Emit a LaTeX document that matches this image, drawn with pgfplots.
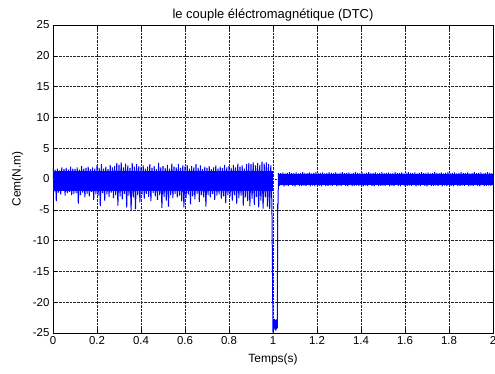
\documentclass[border=0pt]{standalone}
\usepackage{fontspec}
\setmainfont{Liberation Sans}
\usepackage{pgfplots}
\pgfplotsset{compat=1.18}
\begin{document}
\begin{tikzpicture}
\begin{axis}[name=ax, scale only axis, width=440bp, height=308bp,
 xmin=0,xmax=2,ymin=-25,ymax=25,
 xtick={0,0.2,0.4,0.6,0.8,1,1.2,1.4,1.6,1.8,2},
 xticklabels={0,0.2,0.4,0.6,0.8,1,1.2,1.4,1.6,1.8,2},
 ytick={-25,-20,-15,-10,-5,0,5,10,15,20,25},
 yticklabels={-25,-20,-15,-10,-5,0,5,10,15,20,25},
 tick align=inside, tick pos=both, major tick length=4bp,
 grid=major, grid style={black!85, densely dotted, line width=0.6pt},
 axis line style={black, line width=0.9pt},
 tick style={black, line width=0.6pt},
 ticklabel style={font=\fontsize{11.5}{13}\selectfont},
 label style={font=\fontsize{12}{14}\selectfont},
 title style={font=\fontsize{13}{15}\selectfont, at={(0.5,1)}, anchor=base, yshift=1bp},
 xlabel style={at={(0.5,0)}, anchor=base, yshift=-29bp},
 ylabel style={yshift=3bp},
 xlabel={Temps(s)}, ylabel={Cem(N.m)},
 title={le couple éléctromagnétique (DTC)},
]
% dense core of the oscillation bands
\addplot[fill=blue, draw=none] coordinates {(0,1.3)(0.998,1.3)(0.998,-1.9)(0,-1.9)};
\addplot[fill=blue, draw=none] coordinates {(1.025,0.85)(2,0.85)(2,-0.95)(1.025,-0.95)};
\addplot[blue, line width=1pt] coordinates {
(0.000,1.8)(0.005,-2.0)(0.010,1.5)(0.015,-3.6)(0.020,1.7)(0.025,-2.2)(0.030,1.4)(0.035,-2.5)(0.040,1.9)(0.045,-1.9)
(0.050,1.6)(0.055,-2.7)(0.060,1.8)(0.065,-2.3)(0.070,1.5)(0.075,-2.1)(0.080,2.0)(0.085,-2.6)(0.090,1.7)(0.095,-2.4)
(0.100,1.6)(0.105,-2.3)(0.110,1.9)(0.115,-4.0)(0.120,1.5)(0.125,-2.6)(0.130,2.1)(0.135,-2.2)(0.140,1.7)(0.145,-3.0)
(0.150,1.8)(0.155,-2.4)(0.160,2.0)(0.165,-2.8)(0.170,1.6)(0.175,-2.1)(0.180,1.9)(0.185,-3.4)(0.190,1.7)(0.195,-2.5)
(0.200,2.2)(0.205,-2.7)(0.210,1.8)(0.215,-4.4)(0.220,2.4)(0.225,-2.3)(0.230,1.7)(0.235,-3.5)(0.240,2.0)(0.245,-2.5)
(0.250,1.6)(0.255,-2.9)(0.260,2.3)(0.265,-2.2)(0.270,1.9)(0.275,-3.1)(0.280,2.1)(0.285,-2.6)(0.290,2.6)(0.295,-4.3)
(0.300,2.3)(0.305,-2.8)(0.310,2.7)(0.315,-3.3)(0.320,1.9)(0.325,-2.4)(0.330,2.5)(0.335,-4.6)(0.340,2.2)(0.345,-2.7)
(0.350,1.8)(0.355,-5.2)(0.360,2.6)(0.365,-3.0)(0.370,2.0)(0.375,-4.9)(0.380,2.4)(0.385,-2.6)(0.390,2.1)(0.395,-3.8)
(0.400,1.9)(0.405,-2.5)(0.410,2.2)(0.415,-3.2)(0.420,1.7)(0.425,-2.4)(0.430,2.0)(0.435,-2.9)(0.440,2.4)(0.445,-3.6)
(0.450,1.8)(0.455,-2.3)(0.460,2.1)(0.465,-2.8)(0.470,1.6)(0.475,-3.4)(0.480,2.6)(0.485,-2.6)(0.490,1.9)(0.495,-4.7)
(0.500,2.1)(0.505,-2.9)(0.510,1.8)(0.515,-3.5)(0.520,2.3)(0.525,-4.5)(0.530,1.7)(0.535,-2.6)(0.540,2.5)(0.545,-3.1)
(0.550,2.0)(0.555,-2.4)(0.560,1.9)(0.565,-3.0)(0.570,2.4)(0.575,-2.7)(0.580,1.8)(0.585,-3.6)(0.590,2.2)(0.595,-4.6)
(0.600,2.0)(0.605,-3.1)(0.610,2.3)(0.615,-2.5)(0.620,1.7)(0.625,-4.1)(0.630,2.1)(0.635,-2.8)(0.640,1.9)(0.645,-3.3)
(0.650,2.4)(0.655,-2.4)(0.660,1.8)(0.665,-3.7)(0.670,2.2)(0.675,-2.6)(0.680,1.6)(0.685,-3.0)(0.690,2.0)(0.695,-4.5)
(0.700,1.8)(0.705,-2.6)(0.710,2.1)(0.715,-3.0)(0.720,1.6)(0.725,-2.4)(0.730,1.9)(0.735,-3.4)(0.740,2.2)(0.745,-2.7)
(0.750,1.7)(0.755,-2.5)(0.760,2.0)(0.765,-3.2)(0.770,1.8)(0.775,-2.8)(0.780,2.3)(0.785,-3.9)(0.790,1.9)(0.795,-2.6)
(0.800,2.1)(0.805,-2.8)(0.810,1.8)(0.815,-3.5)(0.820,2.3)(0.825,-2.6)(0.830,1.9)(0.835,-4.0)(0.840,2.5)(0.845,-3.1)
(0.850,2.0)(0.855,-2.7)(0.860,2.2)(0.865,-4.3)(0.870,1.7)(0.875,-3.0)(0.880,2.4)(0.885,-3.6)(0.890,2.6)(0.895,-4.4)
(0.900,2.4)(0.905,-3.2)(0.910,2.7)(0.915,-4.2)(0.920,2.2)(0.925,-2.9)(0.930,2.6)(0.935,-4.6)(0.940,2.3)(0.945,-3.5)
(0.950,2.8)(0.955,-4.8)(0.960,2.5)(0.965,-3.0)(0.970,2.7)(0.975,-4.5)(0.980,2.4)(0.985,-4.9)(0.990,2.2)(0.995,-4.0)
(1.000,-24.9)(1.002,-22.8)(1.004,-24.5)(1.006,-22.7)(1.008,-24.3)(1.010,-22.9)(1.012,-24.6)(1.014,-22.8)(1.016,-24.4)(1.018,-22.9)(1.020,-24.2)
(1.021,-4.0)(1.022,-4.9)(1.023,-3.8)
(1.025,1.0)(1.030,-1.1)(1.035,0.95)(1.040,-1.0)(1.045,1.05)(1.050,-1.2)(1.055,0.9)(1.060,-1.05)
(1.065,1.0)(1.070,-1.15)(1.075,1.1)(1.080,-0.95)(1.085,0.95)(1.090,-1.1)(1.095,1.0)(1.100,-1.2)
(1.105,1.05)(1.110,-1.0)(1.115,0.9)(1.120,-1.15)(1.125,1.0)(1.130,-1.1)(1.135,1.1)(1.140,-1.05)
(1.145,1.0)(1.150,-1.1)(1.155,0.95)(1.160,-1.0)(1.165,1.05)(1.170,-1.2)(1.175,0.9)(1.180,-1.05)
(1.185,1.0)(1.190,-1.15)(1.195,1.1)(1.200,-0.95)(1.205,0.95)(1.210,-1.1)(1.215,1.0)(1.220,-1.2)
(1.225,1.05)(1.230,-1.0)(1.235,0.9)(1.240,-1.15)(1.245,1.0)(1.250,-1.1)(1.255,1.1)(1.260,-1.05)
(1.265,1.0)(1.270,-1.1)(1.275,0.95)(1.280,-1.0)(1.285,1.05)(1.290,-1.2)(1.295,0.9)(1.300,-1.05)
(1.305,1.0)(1.310,-1.15)(1.315,1.1)(1.320,-0.95)(1.325,0.95)(1.330,-1.1)(1.335,1.0)(1.340,-1.2)
(1.345,1.05)(1.350,-1.0)(1.355,0.9)(1.360,-1.15)(1.365,1.0)(1.370,-1.1)(1.375,1.1)(1.380,-1.05)
(1.385,1.0)(1.390,-1.1)(1.395,0.95)(1.400,-1.0)(1.405,1.05)(1.410,-1.2)(1.415,0.9)(1.420,-1.05)
(1.425,1.0)(1.430,-1.15)(1.435,1.1)(1.440,-0.95)(1.445,0.95)(1.450,-1.1)(1.455,1.0)(1.460,-1.2)
(1.465,1.05)(1.470,-1.0)(1.475,0.9)(1.480,-1.15)(1.485,1.0)(1.490,-1.1)(1.495,1.1)(1.500,-1.05)
(1.505,1.0)(1.510,-1.1)(1.515,0.95)(1.520,-1.0)(1.525,1.05)(1.530,-1.2)(1.535,0.9)(1.540,-1.05)
(1.545,1.0)(1.550,-1.15)(1.555,1.1)(1.560,-0.95)(1.565,0.95)(1.570,-1.1)(1.575,1.0)(1.580,-1.2)
(1.585,1.05)(1.590,-1.0)(1.595,0.9)(1.600,-1.15)(1.605,1.0)(1.610,-1.1)(1.615,1.1)(1.620,-1.05)
(1.625,1.0)(1.630,-1.1)(1.635,0.95)(1.640,-1.0)(1.645,1.05)(1.650,-1.2)(1.655,0.9)(1.660,-1.05)
(1.665,1.0)(1.670,-1.15)(1.675,1.1)(1.680,-0.95)(1.685,0.95)(1.690,-1.1)(1.695,1.0)(1.700,-1.2)
(1.705,1.05)(1.710,-1.0)(1.715,0.9)(1.720,-1.15)(1.725,1.0)(1.730,-1.1)(1.735,1.1)(1.740,-1.05)
(1.745,1.0)(1.750,-1.1)(1.755,0.95)(1.760,-1.0)(1.765,1.05)(1.770,-1.2)(1.775,0.9)(1.780,-1.05)
(1.785,1.0)(1.790,-1.15)(1.795,1.1)(1.800,-0.95)(1.805,0.95)(1.810,-1.1)(1.815,1.0)(1.820,-1.2)
(1.825,1.05)(1.830,-1.0)(1.835,0.9)(1.840,-1.15)(1.845,1.0)(1.850,-1.1)(1.855,1.1)(1.860,-1.05)
(1.865,1.0)(1.870,-1.1)(1.875,0.95)(1.880,-1.0)(1.885,1.05)(1.890,-1.2)(1.895,0.9)(1.900,-1.05)
(1.905,1.0)(1.910,-1.15)(1.915,1.1)(1.920,-0.95)(1.925,0.95)(1.930,-1.1)(1.935,1.0)(1.940,-1.2)
(1.945,1.05)(1.950,-1.0)(1.955,0.9)(1.960,-1.15)(1.965,1.0)(1.970,-1.1)(1.975,1.1)(1.980,-1.05)
(1.985,1.0)(1.990,-1.1)(1.995,0.95)(2.000,-1.0)
};
\end{axis}
\pgfresetboundingbox
\path ([shift={(-53bp,-41bp)}]ax.south west) rectangle ([shift={(2bp,25bp)}]ax.north east);
\end{tikzpicture}
\end{document}
